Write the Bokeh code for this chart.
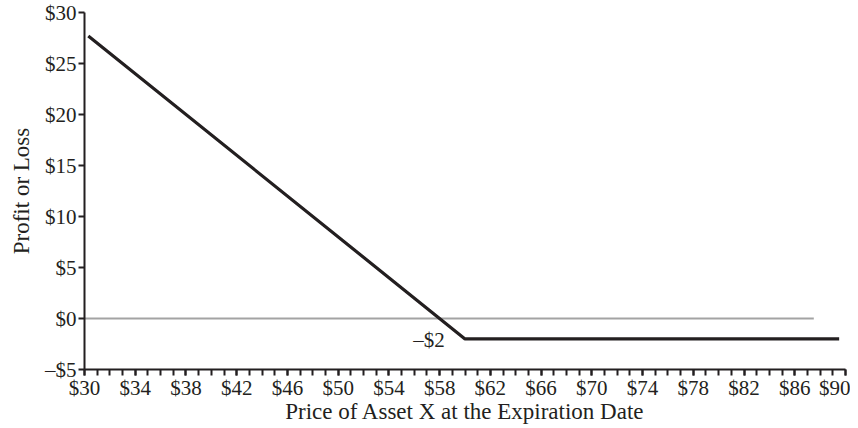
from bokeh.plotting import figure
from bokeh.models import FixedTicker, Range1d, Label
from bokeh.embed import file_html
from bokeh.resources import INLINE

# Data
price = [30.3, 60, 89.5]
profit = [27.7, -2, -2]
zero_x = [30, 87.5]
zero_y = [0, 0]
x_ticks = list(range(30, 91, 4))
x_minor = list(range(30, 91, 1))
y_ticks = list(range(-5, 31, 5))
annot_x = 58.4
annot_y = -2.15
annot_text = "\u2013$2"
x_title = "Price of Asset X at the Expiration Date"
y_title = "Profit or Loss"

FONT = "Liberation Serif"
INK = "#231f20"
W, H = 850, 426
LEFT, RIGHT = 84, 5

p = figure(width=W, height=H, output_backend="svg", toolbar_location=None,
           x_range=Range1d(30, 90), y_range=Range1d(-5, 30),
           min_border_left=LEFT, min_border_right=RIGHT, min_border_top=12, min_border_bottom=48)
p.outline_line_color = None
p.xgrid.visible = False
p.ygrid.visible = False

p.line(zero_x, zero_y, line_color="#a3a3a3", line_width=2)
p.line(price, profit, line_color=INK, line_width=3.2)

p.add_layout(Label(x=annot_x, y=annot_y, text=annot_text, text_align="right", text_baseline="middle",
                   text_font=FONT, text_font_size="21px", text_color=INK))

xa = p.xaxis[0]
xa.ticker = FixedTicker(ticks=x_ticks, minor_ticks=x_minor)
xa.major_label_overrides = {t: "$%d" % t for t in x_ticks}
xa.axis_label = x_title
ya = p.yaxis[0]
ya.ticker = FixedTicker(ticks=y_ticks)
ya.major_label_overrides = {t: ("\u2013$%d" % -t if t < 0 else "$%d" % t) for t in y_ticks}
ya.axis_label = y_title

for ax in (xa, ya):
    ax.axis_line_color = INK
    ax.axis_line_width = 2
    ax.major_tick_line_color = INK
    ax.major_tick_line_width = 2
    ax.minor_tick_line_color = INK
    ax.minor_tick_line_width = 2
    ax.major_tick_out = 6
    ax.major_tick_in = 0
    ax.minor_tick_in = 0
    ax.major_label_text_font = FONT
    ax.major_label_text_font_size = "21px"
    ax.major_label_text_color = INK
    ax.axis_label_text_font = FONT
    ax.axis_label_text_font_size = "23px"
    ax.axis_label_text_font_style = "normal"
    ax.axis_label_text_color = INK

xa.minor_tick_out = 6
xa.major_label_standoff = 0
xa.axis_label_standoff = -4
ya.minor_tick_out = 0
ya.major_label_standoff = 2
ya.axis_label_standoff = 8

open("out.html", "w").write(file_html(p, INLINE))
